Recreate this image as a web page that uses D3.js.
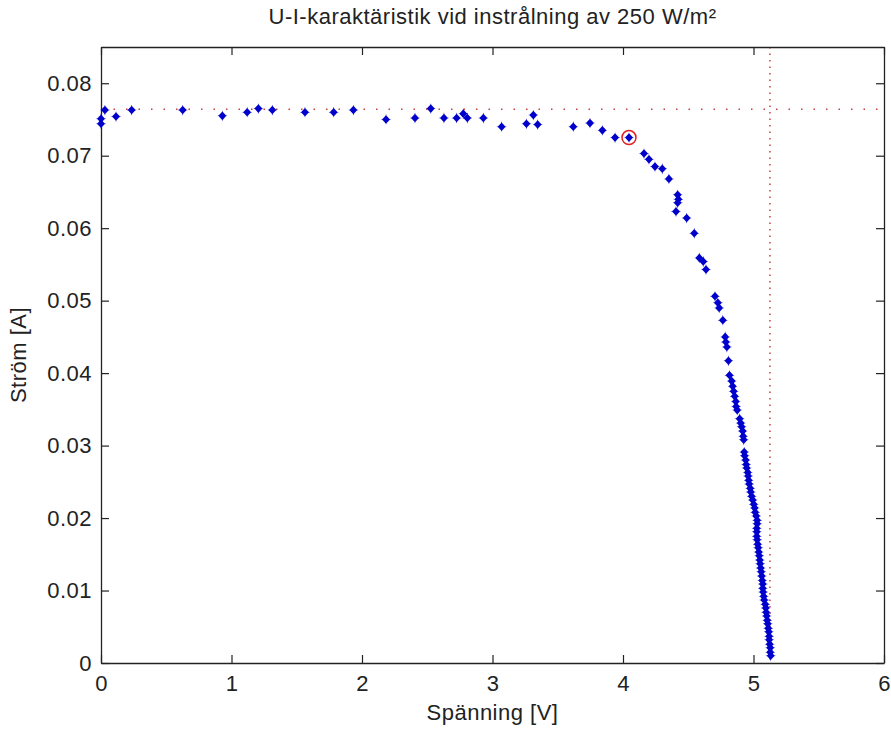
<!DOCTYPE html>
<html>
<head>
<meta charset="utf-8">
<script src="https://cdn.jsdelivr.net/npm/d3@7"></script>
<style>
  body { margin: 0; background: #fff; }
  text { font-family: "Liberation Sans", Arial, sans-serif; fill: #222; }
</style>
</head>
<body>
<div id="chart"></div>
<script>
// measured U-I points (V, A)
const voltage = [
  0, 0, 0.03, 0.115, 0.235, 0.626, 0.93, 1.12, 1.206, 1.313, 1.563, 1.783, 1.934,
  2.184, 2.406, 2.527, 2.628, 2.725, 2.776, 2.807, 2.93, 3.07, 3.26, 3.313, 3.346,
  3.619, 3.747, 3.842, 3.939, 4.046, 4.161, 4.199, 4.245, 4.301, 4.352, 4.419, 4.424,
  4.419, 4.406, 4.488, 4.546, 4.585, 4.615, 4.636, 4.705, 4.727, 4.737, 4.765, 4.783,
  4.788, 4.796, 4.808, 4.816, 4.833, 4.840, 4.848, 4.856, 4.864, 4.867, 4.875, 4.894,
  4.902, 4.909, 4.917, 4.921, 4.925, 4.929, 4.932, 4.940, 4.944, 4.948, 4.956, 4.959,
  4.963, 4.967, 4.975, 4.979, 4.986, 4.994, 5.002, 5.009, 5.013, 5.021, 5.028, 5.028,
  5.025, 5.025, 5.025, 5.028, 5.032, 5.036, 5.040, 5.044, 5.048, 5.051, 5.055, 5.059,
  5.063, 5.067, 5.071, 5.071, 5.074, 5.078, 5.082, 5.090, 5.094, 5.097, 5.101, 5.105,
  5.109, 5.113, 5.117, 5.120, 5.120, 5.124, 5.128, 5.128, 5.132
];
const current = [
  0.0744, 0.0751, 0.0763, 0.0754, 0.0763, 0.0763, 0.0755, 0.0760, 0.0765, 0.0763, 0.0760, 0.0760, 0.0763,
  0.0750, 0.0752, 0.0765, 0.0752, 0.0752, 0.0758, 0.0752, 0.0752, 0.0740, 0.0744, 0.0756, 0.0743,
  0.0740, 0.0745, 0.0735, 0.0725, 0.0725, 0.0703, 0.0695, 0.0685, 0.0682, 0.0668, 0.0646, 0.0640,
  0.0635, 0.0623, 0.0614, 0.0593, 0.0559, 0.0554, 0.0543, 0.0506, 0.0497, 0.0490, 0.0473, 0.0450,
  0.0443, 0.0436, 0.0417, 0.0397, 0.0389, 0.0382, 0.0375, 0.0368, 0.0361, 0.0354, 0.0349, 0.0337,
  0.0331, 0.0326, 0.0320, 0.0313, 0.0308, 0.0291, 0.0286, 0.0280, 0.0274, 0.0269, 0.0263, 0.0258,
  0.0252, 0.0247, 0.0241, 0.0236, 0.0230, 0.0225, 0.0219, 0.0214, 0.0208, 0.0203, 0.0197, 0.0192,
  0.0186, 0.0181, 0.0175, 0.0170, 0.0164, 0.0159, 0.0153, 0.0148, 0.0142, 0.0137, 0.0131, 0.0126,
  0.0120, 0.0114, 0.0109, 0.0103, 0.0098, 0.0092, 0.0087, 0.0081, 0.0076, 0.0070, 0.0065, 0.0059,
  0.0054, 0.0048, 0.0043, 0.0037, 0.0032, 0.0026, 0.0021, 0.0015, 0.0010
];
const mpp = [4.046, 0.0725];     // maximum power point (circled)
const isc = 0.0764, voc = 5.126; // dotted guide lines
const xTicks = [0, 1, 2, 3, 4, 5, 6];
const yTicks = [0, 0.01, 0.02, 0.03, 0.04, 0.05, 0.06, 0.07, 0.08];

const width = 891, height = 729;
const margin = { top: 47, right: 7, bottom: 66, left: 101 };
const innerW = width - margin.left - margin.right;
const innerH = height - margin.top - margin.bottom;
const tickLen = 8;
const markerColor = "#0000cc", guideColor = "#c84040";

const svg = d3.select("#chart")
  .append("svg")
  .attr("width", width)
  .attr("height", height);

const g = svg.append("g")
  .attr("transform", `translate(${margin.left}, ${margin.top})`);

const x = d3.scaleLinear().domain([0, 6]).range([0, innerW]);
const y = d3.scaleLinear().domain([0, 0.085]).range([innerH, 0]);

// guide lines through Isc and Voc
g.append("line")
  .attr("x1", 0).attr("x2", innerW)
  .attr("y1", y(isc)).attr("y2", y(isc))
  .attr("stroke", guideColor).attr("stroke-width", 1.5)
  .attr("stroke-dasharray", "1.5,11");

g.append("line")
  .attr("x1", x(voc)).attr("x2", x(voc))
  .attr("y1", 0).attr("y2", innerH)
  .attr("stroke", guideColor).attr("stroke-width", 1.5)
  .attr("stroke-dasharray", "1.5,5");

// axes (box with inward ticks on all four sides)
const fmtY = d => d === 0 ? "0" : d3.format(".2f")(d);

g.append("g")
  .attr("transform", `translate(0, ${innerH})`)
  .call(d3.axisBottom(x).tickValues(xTicks).tickFormat(d3.format("d"))
    .tickSizeInner(-tickLen).tickSizeOuter(0).tickPadding(12));

g.append("g")
  .call(d3.axisLeft(y).tickValues(yTicks).tickFormat(fmtY)
    .tickSizeInner(-tickLen).tickSizeOuter(0).tickPadding(9));

g.append("g")
  .call(d3.axisTop(x).tickValues(xTicks).tickFormat("")
    .tickSizeInner(-tickLen).tickSizeOuter(0));

g.append("g")
  .attr("transform", `translate(${innerW}, 0)`)
  .call(d3.axisRight(y).tickValues(yTicks).tickFormat("")
    .tickSizeInner(-tickLen).tickSizeOuter(0));

g.selectAll(".domain").attr("stroke", "#222").attr("stroke-width", 1.3);
g.selectAll(".tick line").attr("stroke", "#222").attr("stroke-width", 1.2);
g.selectAll(".tick text")
  .attr("font-size", 22)
  .attr("letter-spacing", 0.5)
  .attr("fill", "#222");

// data points
const diamond = "M0,-5.4L1.2,-1.2L5,0L1.2,1.2L0,5.4L-1.2,1.2L-5,0L-1.2,-1.2Z M0,-4.3L4,0L0,4.3L-4,0Z";

g.append("g")
  .selectAll("path")
  .data(d3.range(voltage.length))
  .join("path")
  .attr("transform", i => `translate(${x(voltage[i])}, ${y(current[i])})`)
  .attr("d", diamond)
  .attr("fill", markerColor);

// circled maximum power point
g.append("circle")
  .attr("cx", x(mpp[0]))
  .attr("cy", y(mpp[1]))
  .attr("r", 7)
  .attr("fill", "none")
  .attr("stroke", "#e02020")
  .attr("stroke-width", 1.5);

// title and axis labels
svg.append("text")
  .attr("x", margin.left + innerW / 2)
  .attr("y", 24)
  .attr("text-anchor", "middle")
  .attr("font-size", 22)
  .attr("letter-spacing", 0.5)
  .text("U-I-karaktäristik vid instrålning av 250 W/m²");

svg.append("text")
  .attr("x", margin.left + innerW / 2)
  .attr("y", 720)
  .attr("text-anchor", "middle")
  .attr("font-size", 22)
  .attr("letter-spacing", 0.5)
  .text("Spänning [V]");

svg.append("text")
  .attr("transform", `translate(26, ${margin.top + innerH / 2}) rotate(-90)`)
  .attr("text-anchor", "middle")
  .attr("font-size", 22)
  .attr("letter-spacing", 0.5)
  .text("Ström [A]");
</script>
</body>
</html>
